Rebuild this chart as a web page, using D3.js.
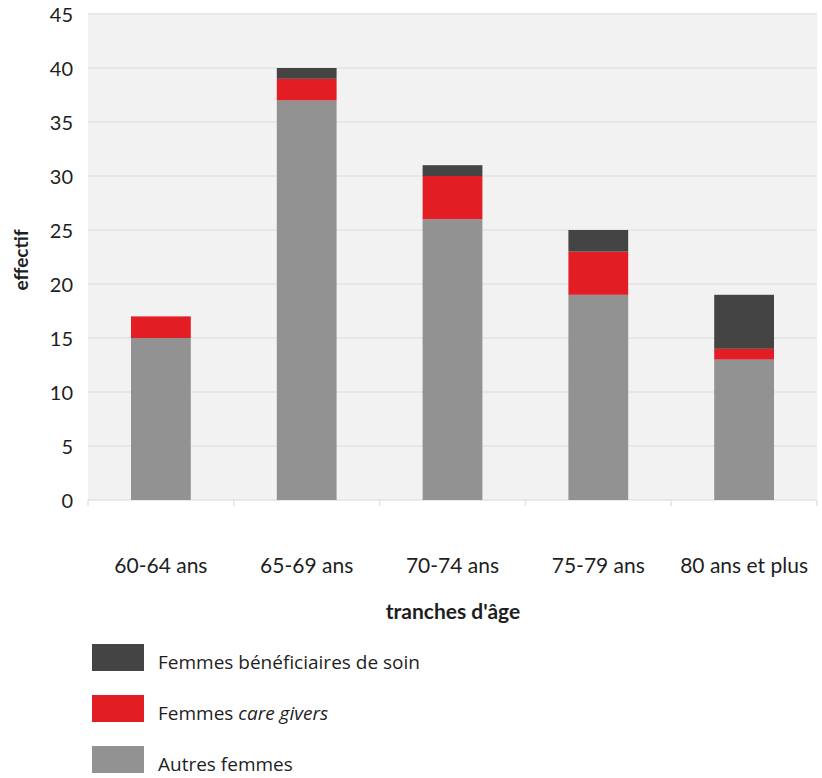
<!DOCTYPE html>
<html>
<head>
<meta charset="utf-8">
<script src="https://cdn.jsdelivr.net/npm/d3@7/dist/d3.min.js"></script>
<style>
  html, body { margin: 0; padding: 0; background: #ffffff; }
  svg { display: block; }
</style>
</head>
<body>
<script>
const categories = ["60-64 ans", "65-69 ans", "70-74 ans", "75-79 ans", "80 ans et plus"];
const autresFemmes = [15, 37, 26, 19, 13];
const careGivers = [2, 2, 4, 4, 1];
const beneficiaires = [0, 1, 1, 2, 5];
const yTicks = [0, 5, 10, 15, 20, 25, 30, 35, 40, 45];
const seriesKeys = ["autres", "care", "benef"];
const seriesColors = { autres: "#929292", care: "#e21d24", benef: "#444444" };

const W = 822, H = 778;
const m = { left: 88, right: 817, top: 14, bottom: 500 };

const rows = categories.map((c, i) => ({
  cat: c, autres: autresFemmes[i], care: careGivers[i], benef: beneficiaires[i]
}));

const svg = d3.select("body").append("svg").attr("width", W).attr("height", H);

const x = d3.scaleBand().domain(categories).range([m.left, m.right])
  .paddingInner(0.59).paddingOuter(0.295);
const y = d3.scaleLinear().domain([0, 45]).range([m.bottom, m.top]);

// plot background
svg.append("rect").attr("x", m.left).attr("y", m.top)
  .attr("width", m.right - m.left).attr("height", m.bottom - m.top)
  .attr("fill", "#f2f2f2");

// gridlines
svg.append("g").selectAll("line").data(yTicks).join("line")
  .attr("x1", m.left).attr("x2", m.right)
  .attr("y1", d => y(d)).attr("y2", d => y(d))
  .attr("stroke", "#e3e3e3").attr("stroke-width", 1.5);

// x category boundary ticks
const step = x.step();
svg.append("g").selectAll("line").data(d3.range(categories.length + 1)).join("line")
  .attr("x1", i => m.left + i * step).attr("x2", i => m.left + i * step)
  .attr("y1", m.bottom).attr("y2", m.bottom + 6)
  .attr("stroke", "#e3e3e3").attr("stroke-width", 1.5);

// stacked bars
const stack = d3.stack().keys(seriesKeys)(rows);
svg.append("g").selectAll("g").data(stack).join("g")
  .attr("fill", d => seriesColors[d.key])
  .selectAll("rect").data(d => d).join("rect")
  .attr("x", d => x(d.data.cat))
  .attr("width", x.bandwidth())
  .attr("y", d => y(d[1]))
  .attr("height", d => y(d[0]) - y(d[1]));

// y axis labels
const yAxis = d3.axisLeft(y).tickValues(yTicks).tickSize(0).tickPadding(15);
const gy = svg.append("g").attr("transform", `translate(${m.left},0)`).call(yAxis);
gy.select(".domain").remove();
gy.selectAll("text").attr("font-family", "Lato, sans-serif").attr("font-size", 20)
  .attr("fill", "#1e1e1e").attr("dy", "0.36em");

// x axis labels
const xAxis = d3.axisBottom(x).tickSize(0).tickPadding(0);
const gx = svg.append("g").attr("transform", `translate(0,${m.bottom})`).call(xAxis);
gx.select(".domain").remove();
gx.selectAll("text").attr("font-family", "Lato, sans-serif").attr("font-size", 21)
  .attr("fill", "#1e1e1e").attr("y", 73).attr("dy", 0);

// axis titles
svg.append("text").attr("x", 453).attr("y", 619).attr("text-anchor", "middle")
  .attr("font-family", "Lato, sans-serif").attr("font-weight", "bold")
  .attr("font-size", 21).attr("fill", "#1e1e1e").text("tranches d'âge");
svg.append("text").attr("transform", "translate(28,260) rotate(-90)")
  .attr("text-anchor", "middle")
  .attr("font-family", "Lato, sans-serif").attr("font-weight", "bold")
  .attr("font-size", 19).attr("fill", "#1e1e1e").text("effectif");

// legend
const legendItems = [
  { key: "benef", parts: [{ t: "Femmes bénéficiaires de soin", i: false }] },
  { key: "care", parts: [{ t: "Femmes ", i: false }, { t: "care givers", i: true }] },
  { key: "autres", parts: [{ t: "Autres femmes", i: false }] }
];
const lg = svg.append("g").selectAll("g").data(legendItems).join("g")
  .attr("transform", (d, i) => `translate(92,${644 + i * 51})`);
lg.append("rect").attr("width", 52).attr("height", 27)
  .attr("fill", d => seriesColors[d.key]);
const lt = lg.append("text").attr("x", 66).attr("y", 25)
  .attr("font-family", "'Open Sans', sans-serif").attr("font-size", 19).attr("fill", "#1e1e1e");
lt.selectAll("tspan").data(d => d.parts).join("tspan")
  .attr("font-style", d => d.i ? "italic" : "normal")
  .text(d => d.t);
</script>
</body>
</html>
